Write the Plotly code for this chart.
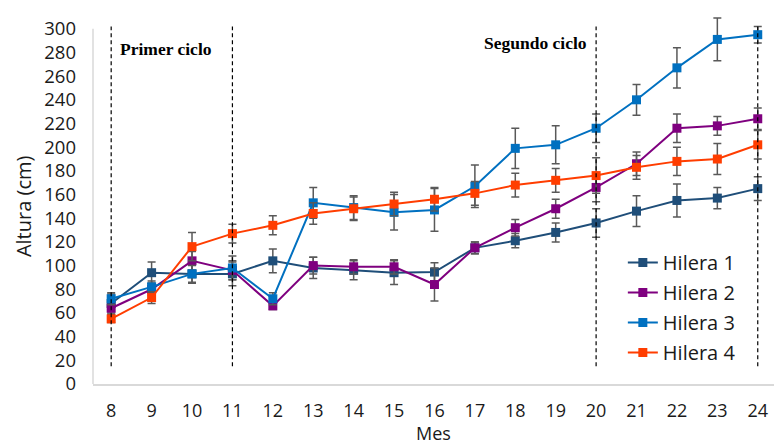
import plotly.graph_objects as go

months = [8, 9, 10, 11, 12, 13, 14, 15, 16, 17, 18, 19, 20, 21, 22, 23, 24]

hilera1 = [68, 94, 93, 93, 104, 98, 96, 94, 94.5, 115, 121, 128, 136, 146, 155, 157, 165]
hilera2 = [64, 80, 104, 96, 66, 100, 99, 99, 84, 115, 132, 148, 166, 186, 216, 218, 224]
hilera3 = [72, 82, 93, 98, 72, 153, 149, 145, 147, 167, 199, 202, 216, 240, 267, 291, 295]
hilera4 = [55, 73, 116, 127, 134, 144, 148, 152, 156, 161, 168, 172, 176, 183, 188, 190, 202]

err1 = [8, 9, 8, 10, 10, 9, 8, 10, 8, 5, 6, 8, 12, 13, 14, 9, 10]
err2 = [5, 5, 8, 8, 3, 7, 6, 6, 14, 5, 7, 8, 12, 10, 12, 8, 9]
err3 = [5, 5, 7, 10, 5, 13, 10, 15, 18, 18, 17, 16, 12, 13, 17, 18, 7]
err4 = [3, 5, 12, 8, 8, 9, 10, 10, 10, 10, 10, 10, 15, 10, 12, 13, 12]

names = ["Hilera 1", "Hilera 2", "Hilera 3", "Hilera 4"]
colors = ["#1F4E79", "#7F007F", "#0070C0", "#FF3D00"]

cycle_lines = [8, 11, 20, 24]
cycle_labels = ["Primer ciclo", "Segundo ciclo"]
cycle_label_x = [9.36, 18.49]
cycle_label_y = [283, 288]

y_ticks = list(range(0, 301, 20))

fig = go.Figure()
for name, vals, errs, col in zip(names, [hilera1, hilera2, hilera3, hilera4],
                                  [err1, err2, err3, err4], colors):
    fig.add_trace(go.Scatter(
        x=months, y=vals, name=name, mode="lines+markers", legendgroup=name,
        line=dict(color=col, width=2),
        marker=dict(symbol="square", size=9, color=col),
        error_y=dict(type="data", array=errs, visible=True,
                     color="#595959", thickness=1.5, width=4),
        cliponaxis=False,
    ))

shapes = []
for m in cycle_lines:
    shapes.append(dict(type="line", xref="x", yref="y", x0=m, x1=m, y0=15, y1=302,
                       line=dict(color="black", width=1.2, dash="4px,3px"), layer="above"))
# y axis line
shapes.append(dict(type="line", xref="paper", yref="y", x0=0, x1=0, y0=0, y1=300,
                   line=dict(color="#D9D9D9", width=1.5), layer="below"))
# outer chart border
shapes.append(dict(type="rect", xref="paper", yref="paper", x0=-0.1277, x1=1.05,
                   y0=-0.3, y1=1.0107, line=dict(color="#D9D9D9", width=2),
                   fillcolor="rgba(0,0,0,0)", layer="below"))

annotations = []
for lab, lx, ly in zip(cycle_labels, cycle_label_x, cycle_label_y):
    annotations.append(dict(x=lx, y=ly, xref="x", yref="y", text="<b>%s</b>" % lab,
                            showarrow=False, xanchor="center", yanchor="middle",
                            font=dict(family="Liberation Serif", size=17.5, color="black")))
annotations.append(dict(x=0.4935, y=-0.132, xref="paper", yref="paper", text="Mes",
                        showarrow=False, xanchor="center", yanchor="middle",
                        font=dict(family="Open Sans", size=18, color="#1a1a1a")))
annotations.append(dict(x=-0.1016, y=0.477, xref="paper", yref="paper", text="Altura (cm)",
                        textangle=-90, showarrow=False, xanchor="center", yanchor="middle",
                        font=dict(family="Open Sans", size=20, color="#1a1a1a")))

fig.update_layout(
    width=782, height=445,
    margin=dict(l=85, r=8, t=3, b=69),
    paper_bgcolor="white", plot_bgcolor="white",
    font=dict(family="Open Sans", size=18.5, color="#1a1a1a"),
    showlegend=True,
    legend=dict(x=0.769, y=0.378, xanchor="left", yanchor="top", tracegroupgap=1,
                font=dict(size=20), bgcolor="rgba(0,0,0,0)"),
    xaxis=dict(range=[7.55, 24.6], tickmode="array", tickvals=months,
               ticktext=[str(m) for m in months], showgrid=False, zeroline=False,
               showline=True, linecolor="#D9D9D9", linewidth=1.5, ticks="",
               ticklabelstandoff=10, tickfont=dict(size=18)),
    yaxis=dict(range=[0, 315], tickmode="array", tickvals=y_ticks,
               showgrid=False, zeroline=False, showline=False, ticks="",
               ticklabelstandoff=16),
    shapes=shapes,
    annotations=annotations,
)

fig.write_html("out.html")
